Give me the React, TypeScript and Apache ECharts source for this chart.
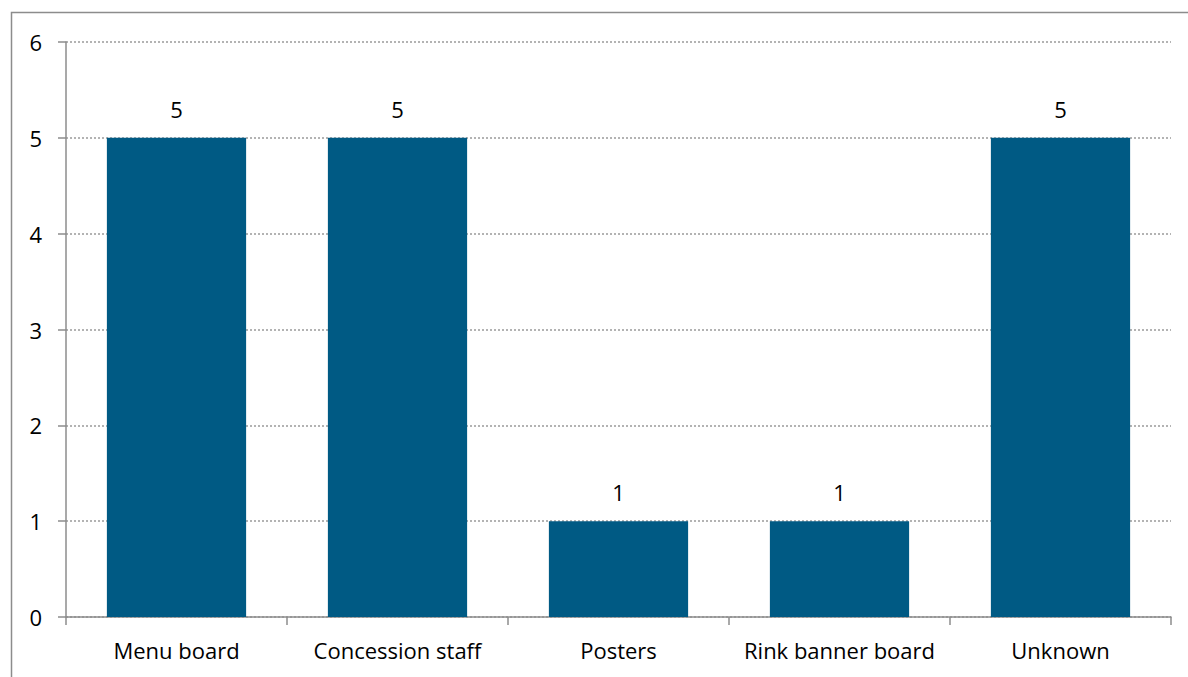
import React, { useEffect, useRef } from "react";
import * as echarts from "echarts";

const categories = ["Menu board", "Concession staff", "Posters", "Rink banner board", "Unknown"];
const values = [5, 5, 1, 1, 5];
const yTicks = [0, 1, 2, 3, 4, 5, 6];

export default function App() {
  const ref = useRef<HTMLDivElement>(null);
  useEffect(() => {
    const chart = echarts.init(ref.current!, null, { renderer: "svg" });
    const font = "'Open Sans', 'Noto Sans', sans-serif";
    chart.setOption({
      animation: false,
      backgroundColor: "#fff",
      graphic: [
        {
          type: "rect",
          shape: { x: 11.5, y: 12.5, width: 1200, height: 700 },
          style: { fill: "none", stroke: "#8c8c8c", lineWidth: 1.5 },
          silent: true,
        },
      ],
      grid: { left: 66, right: 17, top: 42, bottom: 60, containLabel: false },
      xAxis: {
        type: "category",
        data: categories,
        axisLine: { lineStyle: { color: "#8c8c8c", width: 1.5 } },
        axisTick: { show: true, interval: 0, length: 8, alignWithLabel: false, lineStyle: { color: "#8c8c8c", width: 1.5 } },
        axisLabel: { interval: 0, color: "#000", fontSize: 22, fontFamily: font, margin: 22 },
        splitLine: { show: false },
      },
      yAxis: {
        type: "value",
        min: yTicks[0],
        max: yTicks[yTicks.length - 1],
        interval: 1,
        axisLine: { show: true, lineStyle: { color: "#8c8c8c", width: 1.5 } },
        axisTick: { show: true, length: 8, lineStyle: { color: "#8c8c8c", width: 1.5 } },
        axisLabel: { color: "#000", fontSize: 22, fontFamily: font, margin: 24 },
        splitLine: { show: true, lineStyle: { color: "#9a9a9a", type: [2, 2], width: 1.5 } },
      },
      series: [
        {
          type: "bar",
          data: values,
          barWidth: "63%",
          itemStyle: { color: "#005A84" },
          label: {
            show: true,
            position: "top",
            distance: 18,
            color: "#000",
            fontSize: 22,
            fontFamily: font,
          },
        },
      ],
    });
    return () => chart.dispose();
  }, []);
  return (
    <div
      ref={ref}
      style={{ position: "absolute", left: 0, top: 0, width: 1188, height: 677 }}
    />
  );
}
